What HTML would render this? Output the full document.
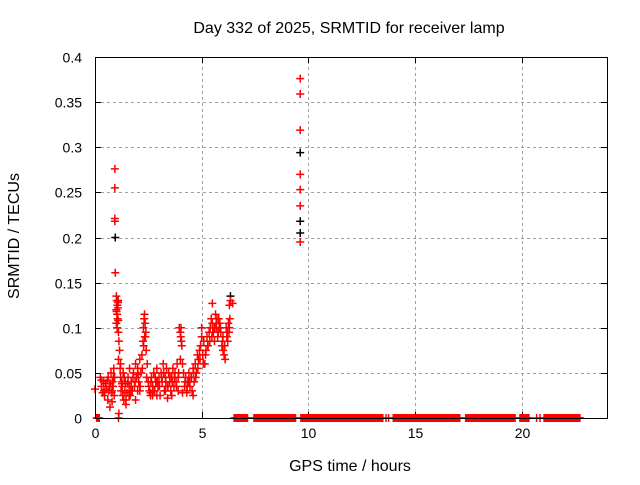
<!DOCTYPE html>
<html><head><meta charset="utf-8"><style>
html,body{margin:0;padding:0;background:#fff}
svg text{font-family:"Liberation Sans",sans-serif;font-size:14px;fill:#000}
svg text.big{font-size:16px}
</style></head><body>
<svg id="chart" width="640" height="480" xmlns="http://www.w3.org/2000/svg">
<rect width="640" height="480" fill="#fff"/>
<g id="grid"></g>
<g id="ticks"></g>
<g id="marks"></g>
<rect x="95.5" y="57.5" width="512" height="361" fill="none" stroke="#000" stroke-width="1"/>
<text class="big" x="349" y="33" text-anchor="middle">Day 332 of 2025, SRMTID for receiver lamp</text>
<text class="big" x="350" y="471" text-anchor="middle">GPS time / hours</text>
<text class="big" transform="translate(19,236) rotate(-90)" text-anchor="middle">SRMTID / TECUs</text>
</svg>
<script>
const xTicks=[0,5,10,15,20];
const yTicks=[0,0.05,0.1,0.15,0.2,0.25,0.3,0.35,0.4];
const yTickLabels=["0","0.05","0.1","0.15","0.2","0.25","0.3","0.35","0.4"];
const redTimes=[0.0,0.25,0.3,0.35,0.4,0.45,0.5,0.55,0.6,0.62,0.65,0.7,0.72,0.75,0.78,0.8,0.82,0.85,0.88,0.9,0.92,
0.93,0.93,0.93,0.93,0.95,1.0,1.02,1.05,1.0,1.03,1.06,1.0,1.04,1.08,1.1,1.12,1.15,1.1,1.2,1.18,1.2,1.25,1.22,1.3,1.28,1.35,1.32,1.4,1.45,1.42,1.5,1.55,1.6,1.62,1.65,1.7,1.75,1.8,1.85,1.9,1.95,2.0,2.05,2.1,2.15,2.2,2.25,2.28,2.3,2.32,2.35,2.38,2.33,2.4,2.45,2.5,2.55,2.6,2.65,2.7,2.75,2.8,2.85,2.9,2.95,3.0,3.05,3.1,3.15,3.2,3.25,3.3,3.35,3.4,3.45,3.5,3.55,3.6,3.65,3.7,3.75,3.8,3.85,3.9,3.95,4.0,4.02,4.05,4.0,4.1,4.15,4.2,4.25,4.3,4.35,4.4,4.45,4.5,4.55,4.6,4.65,4.7,4.75,4.8,4.85,4.9,4.95,5.0,5.0,5.05,5.1,5.15,5.2,5.25,5.3,5.35,5.4,5.45,5.5,5.5,5.55,5.6,5.65,5.7,5.75,5.8,5.85,5.9,5.95,6.0,6.05,6.1,6.0,6.15,6.2,6.25,6.3,6.35,6.45,6.3,
1.6,1.9,2.1,2.6,2.9,3.3,3.6,3.9,4.3,4.6,1.45,2.0,2.7,3.4,4.1,
0.3,0.42,0.58,0.68,0.8,0.86,1.27,1.37,1.52,1.68,1.78,1.88,2.02,2.12,2.22,2.42,2.52,2.62,2.72,2.82,2.92,3.02,3.12,3.22,3.32,3.42,3.52,3.62,3.72,3.82,3.92,4.22,4.32,4.42,4.52,4.62,4.72,4.82,4.92,5.08,5.18,5.28,5.38,5.48,5.58,5.68,5.78,5.88,5.98,6.08,6.18,6.28,
1.01,1.07,1.09,1.05,2.27,2.36,2.31,4.03,4.07,5.62,5.72,5.82,5.52,6.22,6.32,
9.62,9.62,9.62,9.62,9.62,9.62,9.62,1.12];
const redValues=[0.032,0.045,0.035,0.028,0.04,0.025,0.038,0.032,0.02,0.045,0.03,0.012,0.038,0.05,0.028,0.018,0.04,0.035,0.055,0.025,0.045,
0.276,0.255,0.221,0.218,0.161,0.135,0.13,0.125,0.12,0.115,0.11,0.105,0.1,0.128,0.095,0.085,0.075,0.065,0.06,0.055,0.045,0.04,0.03,0.025,0.035,0.02,0.05,0.03,0.015,0.04,0.028,0.045,0.035,0.055,0.025,0.04,0.03,0.05,0.035,0.06,0.045,0.055,0.04,0.065,0.05,0.07,0.085,0.08,0.11,0.115,0.105,0.095,0.09,0.075,0.06,0.04,0.03,0.025,0.045,0.035,0.05,0.03,0.04,0.055,0.035,0.045,0.025,0.05,0.04,0.06,0.03,0.045,0.055,0.035,0.05,0.04,0.03,0.045,0.055,0.035,0.05,0.04,0.06,0.045,0.1,0.095,0.09,0.085,0.065,0.06,0.05,0.035,0.045,0.03,0.04,0.05,0.035,0.045,0.03,0.055,0.04,0.06,0.05,0.07,0.065,0.075,0.08,0.09,0.1,0.07,0.085,0.06,0.075,0.09,0.08,0.095,0.1,0.11,0.105,0.127,0.095,0.085,0.115,0.1,0.09,0.11,0.105,0.095,0.08,0.075,0.07,0.065,0.09,0.1,0.095,0.105,0.125,0.13,0.127,0.1,
0.025,0.02,0.03,0.028,0.025,0.03,0.025,0.03,0.028,0.025,0.02,0.03,0.025,0.022,0.028,
0.042,0.03,0.042,0.035,0.03,0.045,0.038,0.045,0.038,0.03,0.045,0.04,0.048,0.035,0.055,0.045,0.035,0.04,0.03,0.045,0.04,0.035,0.045,0.05,0.04,0.035,0.045,0.04,0.045,0.035,0.05,0.04,0.035,0.04,0.045,0.05,0.045,0.055,0.065,0.06,0.07,0.08,0.085,0.09,0.1,0.105,0.095,0.1,0.085,0.08,0.09,0.095,
0.118,0.122,0.108,0.13,0.1,0.09,0.11,0.1,0.08,0.1,0.11,0.1,0.095,0.085,0.11,
0.376,0.359,0.319,0.270,0.253,0.235,0.195,0.005];
const blackTimes=[0.95,9.62,9.62,9.62,6.35,1.08];
const blackValues=[0.2,0.294,0.218,0.205,0.135,0.13];
const zeroRangeStarts=[0.08,1.1,6.52,7.45,9.65,13.64,13.76,13.98,17.38,19.92,20.7,20.86,21.05];
const zeroRangeEnds=[0.2,1.1,7.15,9.4,13.5,13.64,13.76,17.12,19.7,20.34,20.7,20.86,22.75];
const ns='http://www.w3.org/2000/svg';
const X0=95,X1=607,Y0=418,Y1=57,XMAX=24,YMAX=0.4;
function sx(t){return X0+t*(X1-X0)/XMAX;}
function sy(v){return Y0-v*(Y0-Y1)/YMAX;}
function mk(tag,attrs,parent){const e=document.createElementNS(ns,tag);for(const k in attrs)e.setAttribute(k,attrs[k]);parent.appendChild(e);return e;}
const grid=document.getElementById('grid'),ticks=document.getElementById('ticks'),marks=document.getElementById('marks');
xTicks.forEach((t,i)=>{const x=Math.round(sx(t))+0.5;
 if(i>0){const g=mk('line',{x1:x,y1:Y0,x2:x,y2:Y1,stroke:'#a0a0a0','stroke-dasharray':'3,3'},grid);
 
 }
 const tk=mk('path',{d:`M${x},${Y0}v-6M${x},${Y1}v6`,stroke:'#000'},ticks);
 
 
 const tx=mk('text',{x:x,y:Y0+20,'text-anchor':'middle'},ticks);tx.textContent=String(t);
 
 
});
yTicks.forEach((v,i)=>{const y=Math.round(sy(v))+0.5;
 if(i>0&&i<yTicks.length-1){const g=mk('line',{x1:X0,y1:y,x2:X1,y2:y,stroke:'#a0a0a0','stroke-dasharray':'3,3'},grid);
 
 }
 const tk=mk('path',{d:`M${X0},${y}h6M${X1},${y}h-6`,stroke:'#000'},ticks);
 
 
 const tx=mk('text',{x:X0-13,y:y+5,'text-anchor':'end'},ticks);tx.textContent=yTickLabels[i];
 
 
});
function plus(t,v,color,name){const x=sx(t),y=sy(v);
 const p=mk('path',{d:`M${x-4},${y}h8M${x},${y-4}v8`,stroke:color,'stroke-width':1.5,fill:'none'},marks);
 
 }
blackTimes.forEach((t,i)=>plus(t,blackValues[i],'#000','black-point'));
redTimes.forEach((t,i)=>plus(t,redValues[i],'#f00','red-point'));
zeroRangeStarts.forEach((s,i)=>{const e=zeroRangeEnds[i];
 for(let t=s;t<=e+1e-9;t+=0.03){plus(t,0,'#f00','zero-point');}
});
</script>
</body></html>
